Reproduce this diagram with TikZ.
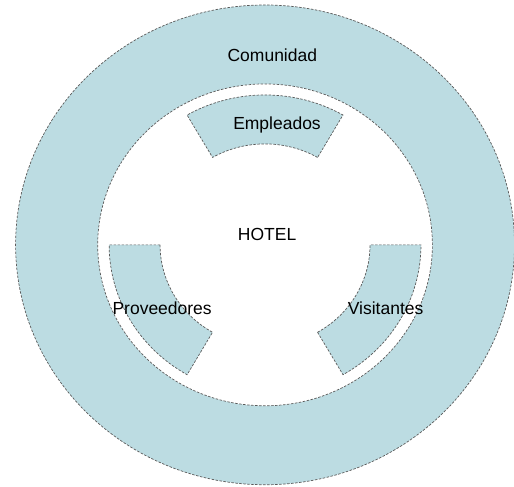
\documentclass[tikz,border=0pt]{standalone}
\usepackage{fontspec}
\setmainfont{Liberation Sans}
\definecolor{ringblue}{RGB}{188,220,226}
\definecolor{edgegray}{RGB}{90,90,90}

\begin{document}
\begin{tikzpicture}[x=1pt, y=1pt, xscale=1.04,
  edge/.style={draw=edgegray, dash pattern=on 2.5pt off 1.5pt, line width=0.7pt},
  ringtext/.style={font=\fontsize{17.5}{20}\selectfont, text=black}]
  \useasboundingbox (-255,-242) rectangle (239.5,245);
  % community ring: outer disk minus inner disk
  \fill[ringblue] (0,0) circle (240);
  \fill[white] (0,0) circle (161);
  \draw[edge] (0,0) circle (240);
  \draw[edge] (0,0) circle (161);
  % stakeholder sectors
  \filldraw[edge, fill=ringblue] (60:101) arc (60:120:101) -- (120:150) arc (120:60:150) -- cycle;
  \filldraw[edge, fill=ringblue] (180:101) arc (180:240:101) -- (240:150) arc (240:180:150) -- cycle;
  \filldraw[edge, fill=ringblue] (300:101) arc (300:360:101) -- (360:150) arc (360:300:150) -- cycle;
  % labels
  \node[ringtext] (comunidad) at (7,190) {Comunidad};
  \node[ringtext] (empleados) at (11.5,120) {Empleados};
  \node[ringtext] (hotel) at (2,10) {HOTEL};
  \node[ringtext] (proveedores) at (-99,-63) {Proveedores};
  \node[ringtext] (visitantes) at (116,-63) {Visitantes};
\end{tikzpicture}
\end{document}
